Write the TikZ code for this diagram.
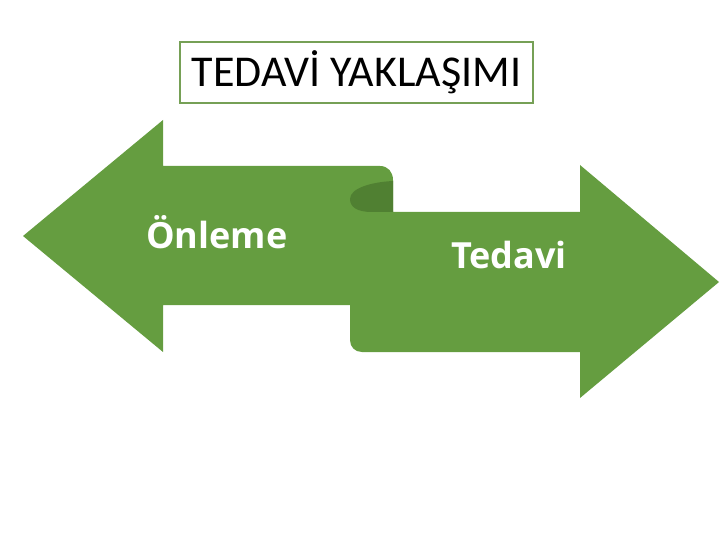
\documentclass[tikz,border=0pt]{standalone}
\usepackage{fontspec}
\setmainfont{Carlito}
\newfontfamily\labelfont{Open Sans}
\definecolor{ribbongreen}{RGB}{101,157,64}
\definecolor{curlgreen}{RGB}{80,128,50}
\definecolor{boxgreen}{RGB}{118,160,86}
\tikzset{ribbon/.style={fill=ribbongreen, draw=none}}
\tikzset{curl/.style={fill=curlgreen, draw=none}}
\tikzset{titlebox/.style={draw=boxgreen, line width=1.5pt, fill=white, rectangle,
    minimum width=353pt, minimum height=61pt, inner sep=0pt, font=\fontsize{44}{48}\selectfont}}
\tikzset{label/.style={text=white, inner sep=0pt, anchor=base west, font=\labelfont\fontsize{36}{40}\selectfont\bfseries}}

\begin{document}
\begin{tikzpicture}[x=1pt, y=-1pt]
        \useasboundingbox (0,0) rectangle (720,540);

        % ribbon arrows
        \fill [ribbon] (23,236) -- (163,120) -- (163,166) -- (380,166)
            .. controls (388,166) and (393,172) .. (393,180) -- (393,212)
            -- (580,212) -- (580,165) -- (719,282) -- (580,398) -- (580,352)
            -- (362,352) .. controls (355,352) and (350,347) .. (350,340)
            -- (350,305) -- (163,305) -- (163,352) -- cycle;
        \fill [curl] (393,181) .. controls (372,182) and (350,188) .. (350,199)
            .. controls (350,207) and (357,212) .. (372,212) -- (393,212) -- cycle;

        \node [titlebox] (title) at (356.5,72.5) {TEDAVİ YAKLAŞIMI};
        \node [label] (prevent) at (146,248) {Önleme};
        \node [label] (treat) at (451,268) {Tedavi};
\end{tikzpicture}
\end{document}
